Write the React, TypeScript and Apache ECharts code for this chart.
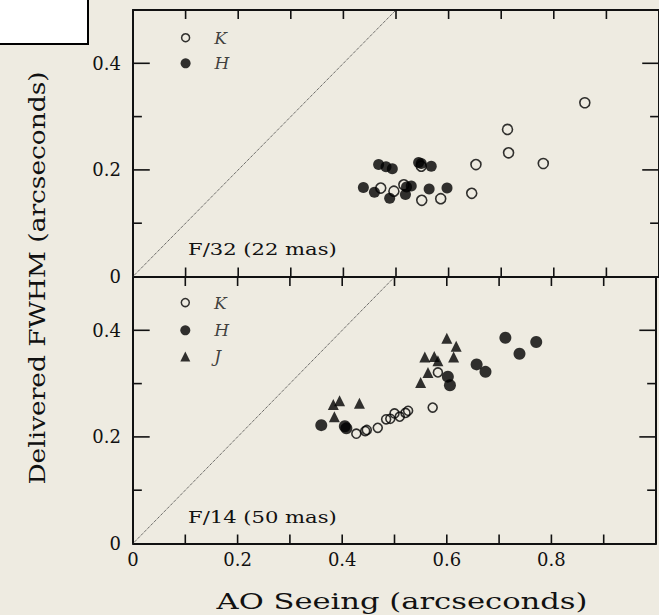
import React, { useEffect, useRef } from "react";
import * as echarts from "echarts";

// ---- data ----
const xTickLabels = ["0", "0.2", "0.4", "0.6", "0.8"];
const yTickLabels = ["0", "0.2", "0.4"];
const xTickValues = [0.1, 0.2, 0.3, 0.4, 0.5, 0.6, 0.7, 0.8, 0.9];
const yMajorTicks = [0.2, 0.4];
const yMinorTicks = [0.1, 0.3];

const topK: [number, number][] = [
  [0.859, 0.326], [0.712, 0.276], [0.714, 0.232], [0.78, 0.212], [0.652, 0.21],
  [0.644, 0.156], [0.585, 0.146], [0.549, 0.143], [0.548, 0.207], [0.515, 0.172],
  [0.496, 0.16], [0.471, 0.166],
];
const topH: [number, number][] = [
  [0.467, 0.21], [0.481, 0.206], [0.493, 0.202], [0.543, 0.214], [0.548, 0.212],
  [0.567, 0.207], [0.438, 0.167], [0.459, 0.158], [0.488, 0.147], [0.518, 0.154],
  [0.52, 0.168], [0.529, 0.17], [0.563, 0.164], [0.597, 0.166],
];
const botK: [number, number][] = [
  [0.583, 0.321], [0.573, 0.255], [0.526, 0.249], [0.521, 0.245], [0.51, 0.238],
  [0.5, 0.244], [0.492, 0.234], [0.484, 0.233], [0.468, 0.217], [0.447, 0.213],
  [0.444, 0.211], [0.427, 0.206],
];
const botH: [number, number][] = [
  [0.712, 0.386], [0.771, 0.378], [0.739, 0.356], [0.657, 0.336], [0.674, 0.322],
  [0.602, 0.313], [0.606, 0.297], [0.405, 0.22], [0.408, 0.216], [0.36, 0.222],
];
const botJ: [number, number][] = [
  [0.6, 0.385], [0.618, 0.37], [0.613, 0.35], [0.558, 0.35], [0.576, 0.351],
  [0.583, 0.343], [0.564, 0.321], [0.55, 0.302], [0.395, 0.268], [0.383, 0.261],
  [0.433, 0.263], [0.385, 0.238],
];
const diagonal: [number, number][] = [[0, 0], [0.5, 0.5]];
const legendX = 0.1;
const legendYTop = [0.448, 0.4];
const legendYBot = [0.452, 0.4, 0.351];
const panelNotes = ["F/32 (22 mas)", "F/14 (50 mas)"];
const xTitle = "AO Seeing (arcseconds)";
const yTitle = "Delivered FWHM (arcseconds)";

// ---- styling ----
const BG = "#eeebe1";
const INK = "#111111";
const FONT = "DejaVu Serif";
const W = 659;
const H = 615;
const GL = 133;
const GW = 533;
const GH = 266.5;
const TOPS = [10, 277];
const X_MAX = 1;
const Y_MAX = 0.5;
// tick lengths in pixels, turned into axis units below
const X_TICK_PX = 9;
const Y_MAJOR_PX = 17;
const Y_MINOR_PX = 9;

function labelFor(list: string[], v: number) {
  for (let i = 0; i < list.length; i++) {
    if (Math.abs(parseFloat(list[i]) - v) < 1e-6) return list[i];
  }
  return "";
}

export default function App() {
  const ref = useRef<HTMLDivElement>(null);
  useEffect(() => {
    document.body.style.margin = "0";
    const chart = echarts.init(ref.current!, null, { renderer: "svg" });

    const line = { show: true, onZero: false, lineStyle: { color: INK, width: 2 } };
    const xAxes: any[] = [];
    const yAxes: any[] = [];
    [0, 1].forEach((g) => {
      ["bottom", "top"].forEach((pos) => {
        const showLabel = g === 1 && pos === "bottom";
        xAxes.push({
          type: "value", gridIndex: g, position: pos, min: 0, max: X_MAX, interval: 0.1,
          splitLine: { show: false }, axisLine: line, axisTick: { show: false },
          axisLabel: showLabel
            ? { show: true, margin: 7, color: INK, fontFamily: FONT, fontSize: 18, formatter: (v: number) => labelFor(xTickLabels, v) }
            : { show: false },
        });
      });
      ["left", "right"].forEach((pos) => {
        yAxes.push({
          type: "value", gridIndex: g, position: pos, min: 0, max: Y_MAX, interval: 0.1,
          splitLine: { show: false }, axisLine: line, axisTick: { show: false },
          axisLabel: pos === "left"
            ? { show: true, margin: 12, color: INK, fontFamily: FONT, fontSize: 18, formatter: (v: number) => labelFor(yTickLabels, v) }
            : { show: false },
        });
      });
    });

    // tick marks: short segments on all four edges, placed through the axes' scales
    const pxPerX = GW / X_MAX;
    const pxPerY = GH / Y_MAX;
    const seg = (xi: number, yi: number, a: [number, number], b: [number, number]) => ({
      type: "line", xAxisIndex: xi, yAxisIndex: yi, data: [a, b], symbol: "none", showSymbol: false,
      silent: true, clip: false, lineStyle: { color: INK, width: 1.6, type: "solid" }, z: 6,
    });
    const ticksFor = (xi: number, yi: number) => {
      const out: any[] = [];
      const dy = X_TICK_PX / pxPerY;
      xTickValues.forEach((v) => {
        out.push(seg(xi, yi, [v, 0], [v, dy]));
        out.push(seg(xi, yi, [v, Y_MAX], [v, Y_MAX - dy]));
      });
      const yTick = (v: number, px: number) => {
        const dx = px / pxPerX;
        out.push(seg(xi, yi, [0, v], [dx, v]));
        out.push(seg(xi, yi, [X_MAX, v], [X_MAX - dx, v]));
      };
      yMajorTicks.forEach((v) => yTick(v, Y_MAJOR_PX));
      yMinorTicks.forEach((v) => yTick(v, Y_MINOR_PX));
      return out;
    };

    const openCircle = (data: [number, number][], xi: number, yi: number, size: number) => ({
      type: "scatter", xAxisIndex: xi, yAxisIndex: yi, data, symbol: "circle", symbolSize: size,
      itemStyle: { color: "transparent", borderColor: "#000", borderWidth: 1.6 },
    });
    const filled = (data: [number, number][], xi: number, yi: number, symbol: string, size: number) => ({
      type: "scatter", xAxisIndex: xi, yAxisIndex: yi, data, symbol, symbolSize: size,
      itemStyle: { color: "#000" },
    });
    const legendItem = (y: number, name: string, xi: number, yi: number, symbol: string, size: number, open: boolean) => ({
      type: "scatter", xAxisIndex: xi, yAxisIndex: yi, data: [[legendX, y]], symbol, symbolSize: size,
      itemStyle: open ? { color: "transparent", borderColor: "#000", borderWidth: 1.5 } : { color: "#000" },
      label: {
        show: true, position: "right", distance: 24, formatter: name, color: INK,
        fontFamily: FONT, fontStyle: "italic", fontSize: 17,
      },
    });
    const diag = (xi: number, yi: number) => ({
      type: "line", xAxisIndex: xi, yAxisIndex: yi, data: diagonal.map((p) => [p[0], p[1]]),
      showSymbol: false, symbol: "none",
      lineStyle: { color: "#333", width: 1, type: "dotted" },
    });

    // x: grid0 bottom -> 0, grid1 bottom -> 2 ; y: grid0 left -> 0, grid1 left -> 2
    const series: any[] = [
      diag(0, 0),
      openCircle(topK, 0, 0, 10),
      filled(topH, 0, 0, "circle", 11),
      legendItem(legendYTop[0], "K", 0, 0, "circle", 8, true),
      legendItem(legendYTop[1], "H", 0, 0, "circle", 10, false),
      ...ticksFor(0, 0),
      diag(2, 2),
      openCircle(botK, 2, 2, 9),
      filled(botH, 2, 2, "circle", 12),
      filled(botJ, 2, 2, "triangle", 11),
      legendItem(legendYBot[0], "K", 2, 2, "circle", 8, true),
      legendItem(legendYBot[1], "H", 2, 2, "circle", 10, false),
      legendItem(legendYBot[2], "J", 2, 2, "triangle", 10, false),
      ...ticksFor(2, 2),
    ];

    const txt = (text: string, x: number, y: number, size: number, sx: number, align: string, rot = 0) => ({
      type: "text", x, y, scaleX: sx, rotation: rot,
      style: { text, fill: INK, fontFamily: FONT, fontSize: size, textAlign: align, textVerticalAlign: "middle" },
    });

    chart.setOption({
      animation: false,
      backgroundColor: BG,
      grid: TOPS.map((t) => ({ left: GL, top: t, width: GW, height: GH })),
      xAxis: xAxes,
      yAxis: yAxes,
      series,
      graphic: [
        { type: "rect", shape: { x: -2, y: -2, width: 90, height: 46 }, style: { fill: "#fff", stroke: "#000", lineWidth: 2 } },
        txt(panelNotes[0], 188, 249.5, 16, 1.32, "left"),
        txt(panelNotes[1], 188, 517.5, 16, 1.32, "left"),
        txt(xTitle, 402, 601, 23, 1.33, "center"),
        txt(yTitle, 37, 278, 23, 1.15, "center", Math.PI / 2),
      ],
    });
    return () => chart.dispose();
  }, []);
  return <div ref={ref} style={{ position: "absolute", left: 0, top: 0, width: W, height: H }} />;
}
